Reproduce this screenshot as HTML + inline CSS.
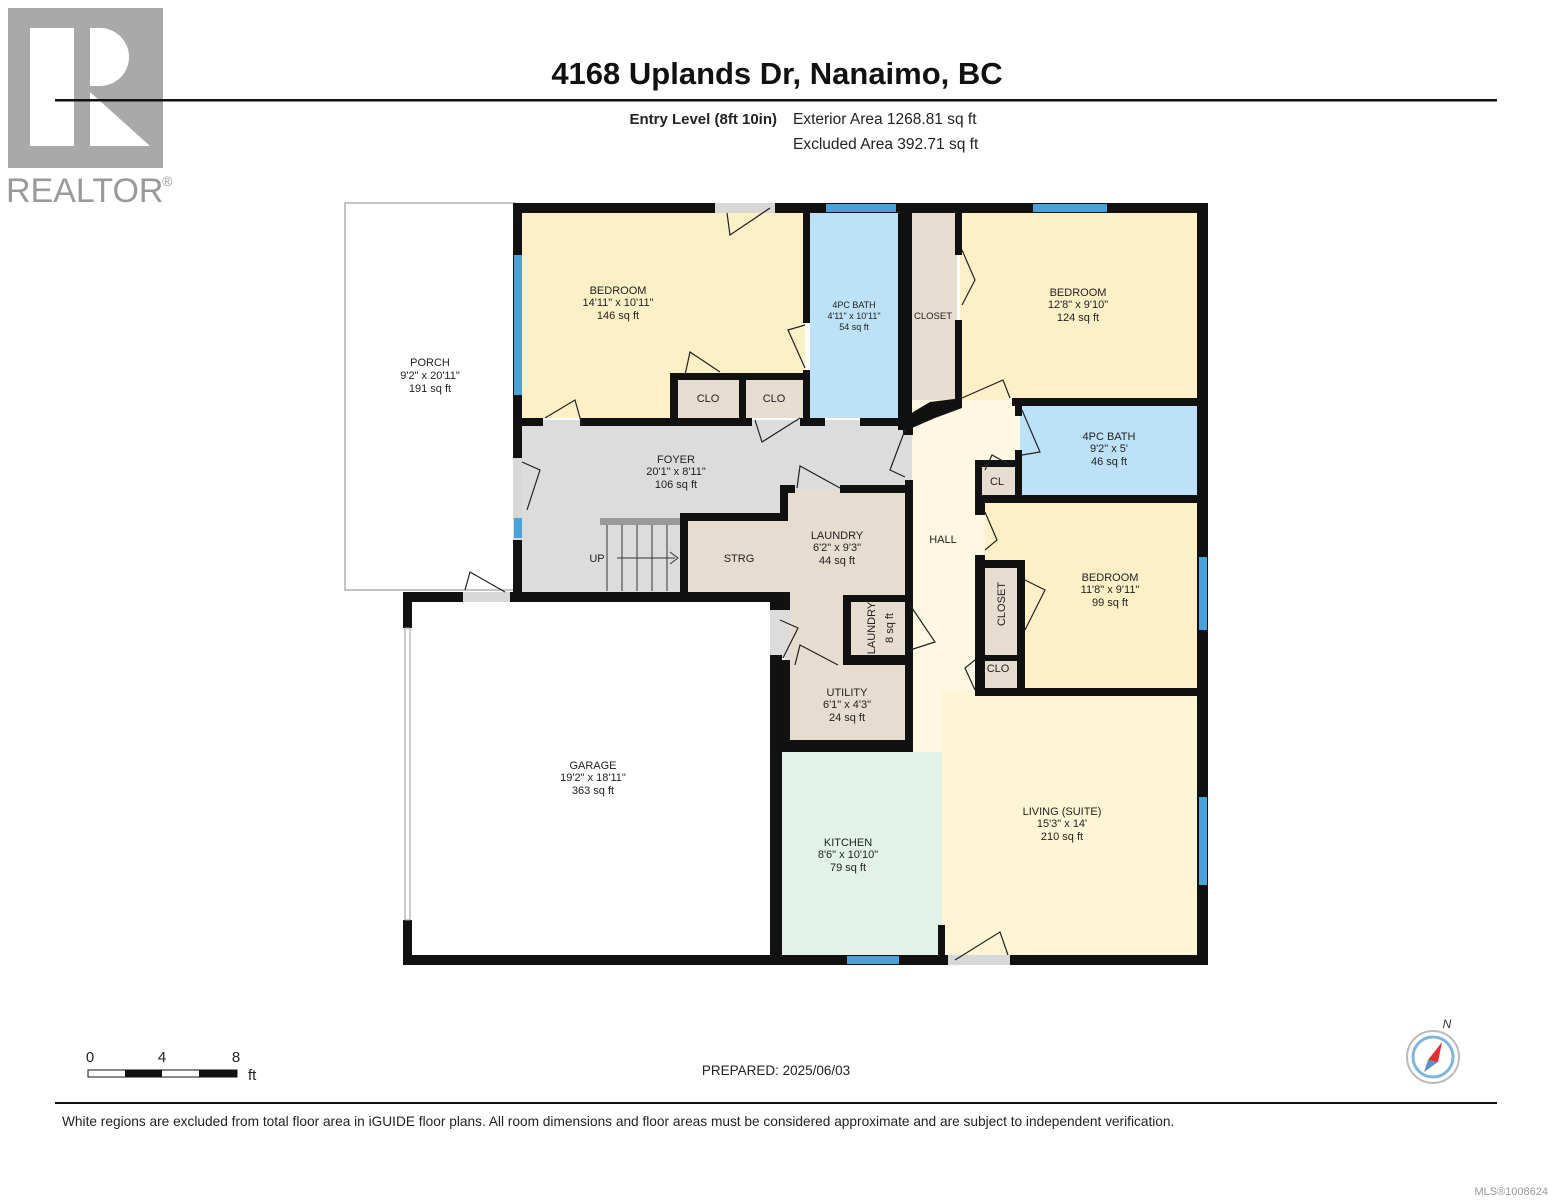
<!DOCTYPE html>
<html><head><meta charset="utf-8"><style>
html,body{margin:0;padding:0;background:#fff;}
svg{display:block;font-family:"Liberation Sans",Arial,sans-serif;}
</style></head><body>
<svg width="1553" height="1200" viewBox="0 0 1553 1200" xmlns="http://www.w3.org/2000/svg">
<!-- Logo -->
<rect x="8" y="8" width="155" height="160" fill="#a9a9a9"/>
<rect x="30" y="28" width="44" height="118" fill="#fff"/>
<path d="M90 28 H100 A29 29 0 0 1 100 86 H90 Z" fill="#fff"/>
<path d="M90 92 L150 146 H90 Z" fill="#fff"/>
<text x="6" y="202" font-size="34" fill="#9a9a9a">REALTOR</text>
<text x="162" y="186" font-size="14" fill="#9a9a9a">®</text>

<!-- Header -->
<text x="777" y="84" font-size="31" font-weight="bold" text-anchor="middle" fill="#111">4168 Uplands Dr, Nanaimo, BC</text>
<rect x="55" y="99" width="1442" height="2.5" fill="#111"/>
<text x="777" y="124" font-size="15" font-weight="bold" text-anchor="end" fill="#222">Entry Level (8ft 10in)</text>
<text x="793" y="124" font-size="15.5" fill="#222">Exterior Area 1268.81 sq ft</text>
<text x="793" y="149" font-size="15.5" fill="#222">Excluded Area 392.71 sq ft</text>

<!-- Room fills -->
<rect x="345" y="203" width="170" height="387" fill="#fff" stroke="#888" stroke-width="1"/>
<rect x="522" y="213" width="283" height="205" fill="#fdefc6"/>
<rect x="810" y="213" width="90" height="205" fill="#bde2f8"/>
<rect x="912" y="213" width="45" height="200" fill="#e6dccf"/>
<rect x="960" y="213" width="240" height="187" fill="#fdefc6"/>
<rect x="513" y="420" width="400" height="175" fill="#dcdcdc"/>
<rect x="912" y="400" width="110" height="520" fill="#fef8e2"/>
<rect x="912" y="690" width="290" height="265" fill="#fdf5d6"/>
<rect x="912" y="690" width="30" height="230" fill="#fef8e2"/>
<rect x="1020" y="405" width="178" height="92" fill="#bde2f8"/>
<rect x="982" y="467" width="36" height="28" fill="#e6dccf"/>
<rect x="985" y="503" width="213" height="187" fill="#fdefc6"/>
<rect x="982" y="568" width="36" height="88" fill="#e6dccf"/>
<rect x="982" y="660" width="36" height="28" fill="#e6dccf"/>
<rect x="688" y="520" width="100" height="73" fill="#e6dccf"/>
<rect x="785" y="490" width="120" height="175" fill="#e6dccf"/>
<rect x="770" y="602" width="20" height="56" fill="#dcdcdc"/>
<rect x="850" y="602" width="55" height="55" fill="#e6dccf"/>
<rect x="788" y="665" width="117" height="77" fill="#e6dccf"/>
<rect x="782" y="752" width="160" height="203" fill="#e2f2e8"/>
<rect x="412" y="602" width="358" height="353" fill="#fff"/>
<rect x="678" y="380" width="62" height="38" fill="#e6dccf"/>
<rect x="745" y="380" width="60" height="38" fill="#e6dccf"/>
<!-- stairs -->
<rect x="600" y="518" width="82" height="7" fill="#999"/>
<g stroke="#333" stroke-width="1"><line x1="607" y1="525" x2="607" y2="591"/><line x1="622" y1="525" x2="622" y2="591"/><line x1="637" y1="525" x2="637" y2="591"/><line x1="652" y1="525" x2="652" y2="591"/><line x1="667" y1="525" x2="667" y2="591"/><line x1="617" y1="558" x2="675" y2="558"/></g>
<path d="M670 552 L678 558 L670 564" fill="none" stroke="#333"/>

<!-- Walls -->
<g fill="#111">
<rect x="513" y="203" width="202" height="10"/><rect x="775" y="203" width="433" height="10"/>
<rect x="1197" y="203" width="11" height="762"/>
<rect x="403" y="955" width="545" height="10"/><rect x="1010" y="955" width="198" height="10"/>
<rect x="403" y="592" width="9" height="36"/><rect x="403" y="920" width="9" height="45"/>
<rect x="513" y="203" width="9" height="255"/><rect x="513" y="540" width="9" height="60"/>
<rect x="403" y="592" width="60" height="10"/><rect x="510" y="592" width="270" height="10"/>
<rect x="513" y="418" width="30" height="8"/><rect x="580" y="418" width="172" height="8"/><rect x="800" y="418" width="25" height="8"/><rect x="860" y="418" width="52" height="8"/>
<rect x="803" y="203" width="7" height="120"/><rect x="803" y="370" width="7" height="55"/>
<rect x="670" y="373" width="140" height="7"/><rect x="670" y="373" width="8" height="50"/><rect x="739" y="373" width="7" height="50"/>
<rect x="898" y="203" width="14" height="227"/><rect x="903" y="420" width="10" height="15"/>
<rect x="955" y="213" width="7" height="42"/><rect x="955" y="320" width="7" height="88"/>
<polygon points="903,418 930,402 962,398 962,408 935,418 912,428"/>
<rect x="1012" y="398" width="196" height="8"/>
<rect x="1015" y="398" width="7" height="18"/><rect x="1015" y="450" width="7" height="50"/>
<rect x="975" y="460" width="44" height="7"/><rect x="975" y="460" width="7" height="43"/>
<rect x="975" y="495" width="233" height="8"/>
<rect x="975" y="495" width="10" height="20"/><rect x="975" y="555" width="10" height="135"/>
<rect x="975" y="560" width="50" height="8"/><rect x="1017" y="560" width="8" height="130"/>
<rect x="975" y="655" width="50" height="6"/>
<rect x="975" y="688" width="233" height="8"/>
<rect x="905" y="480" width="8" height="272"/>
<rect x="780" y="485" width="15" height="8"/><rect x="840" y="485" width="73" height="8"/>
<rect x="780" y="485" width="8" height="35"/>
<rect x="680" y="513" width="108" height="8"/><rect x="680" y="513" width="8" height="80"/>
<rect x="770" y="592" width="20" height="18"/>
<rect x="770" y="655" width="12" height="310"/>
<rect x="843" y="595" width="8" height="70"/><rect x="843" y="595" width="67" height="7"/>
<rect x="843" y="655" width="67" height="10"/>
<rect x="782" y="660" width="8" height="92"/>
<rect x="780" y="740" width="133" height="12"/>
<rect x="938" y="925" width="7" height="40"/>
</g>
<!-- thin garage left line -->
<rect x="405" y="628" width="5" height="292" fill="#fff" stroke="#999" stroke-width="1"/>
<!-- Windows -->
<g fill="#4aa3d8">
<rect x="514" y="255" width="8" height="140"/>
<rect x="826" y="204" width="70" height="8"/>
<rect x="1033" y="204" width="74" height="8"/>
<rect x="1199" y="557" width="8" height="73"/>
<rect x="1199" y="797" width="8" height="88"/>
<rect x="847" y="956" width="52" height="8"/>
<rect x="514" y="518" width="8" height="20"/>
</g>
<!-- door openings -->
<g fill="#d8d8d8"><rect x="715" y="203" width="60" height="10"/><rect x="463" y="592" width="47" height="10"/><rect x="948" y="955" width="62" height="10"/><rect x="513" y="458" width="9" height="60"/></g>
<!-- door swings -->
<g fill="none" stroke="#222" stroke-width="1.2">
<path d="M727 213 L730 235 L770 208"/><path d="M805 325 L788 330 L805 368"/><path d="M545 418 L575 400 L582 425"/>
<path d="M685 375 L690 352 L720 372"/><path d="M755 420 L762 442 L800 418"/><path d="M522 462 L540 470 L527 510"/>
<path d="M465 590 L470 572 L505 592"/><path d="M797 488 L800 466 L840 488"/><path d="M905 430 L890 470 L905 477"/>
<path d="M962 250 L975 280 L962 305"/><path d="M962 398 L1003 380 L1010 398"/><path d="M1022 410 L1040 452 L1022 455"/>
<path d="M985 470 L992 455 L1010 465"/><path d="M985 512 L997 540 L985 550"/><path d="M1025 580 L1045 590 L1025 630"/>
<path d="M975 660 L965 668 L975 690"/><path d="M910 605 L935 642 L910 650"/><path d="M780 620 L798 628 L783 658"/>
<path d="M795 665 L800 645 L838 665"/><path d="M955 960 L1000 932 L1008 955"/>
</g>

<!-- Labels -->
<g font-size="11" fill="#222" text-anchor="middle">
<text x="430" y="366">PORCH</text><text x="430" y="379">9'2" x 20'11"</text><text x="430" y="392">191 sq ft</text>
<text x="618" y="294">BEDROOM</text><text x="618" y="306">14'11" x 10'11"</text><text x="618" y="319">146 sq ft</text>
<text x="854" y="308" font-size="9">4PC BATH</text><text x="854" y="319" font-size="9">4'11" x 10'11"</text><text x="854" y="330" font-size="9">54 sq ft</text>
<text x="933" y="319" font-size="9.5">CLOSET</text>
<text x="1078" y="296">BEDROOM</text><text x="1078" y="308">12'8" x 9'10"</text><text x="1078" y="321">124 sq ft</text>
<text x="708" y="402">CLO</text><text x="774" y="402">CLO</text>
<text x="676" y="463">FOYER</text><text x="676" y="475">20'1" x 8'11"</text><text x="676" y="488">106 sq ft</text>
<text x="1109" y="440">4PC BATH</text><text x="1109" y="452">9'2" x 5'</text><text x="1109" y="465">46 sq ft</text>
<text x="997" y="485">CL</text>
<text x="943" y="543">HALL</text>
<text x="837" y="539">LAUNDRY</text><text x="837" y="551">6'2" x 9'3"</text><text x="837" y="564">44 sq ft</text>
<text x="739" y="562">STRG</text><text x="597" y="562">UP</text>
<text x="1110" y="581">BEDROOM</text><text x="1110" y="593">11'8" x 9'11"</text><text x="1110" y="606">99 sq ft</text>
<text x="1001" y="604" transform="rotate(-90 1001 604)" dy="4">CLOSET</text>
<text x="998" y="672">CLO</text>
<text x="876" y="628" transform="rotate(-90 876 628)" dy="-1">LAUNDRY</text>
<text x="889" y="628" transform="rotate(-90 889 628)" dy="4">8 sq ft</text>
<text x="847" y="696">UTILITY</text><text x="847" y="708">6'1" x 4'3"</text><text x="847" y="721">24 sq ft</text>
<text x="593" y="769">GARAGE</text><text x="593" y="781">19'2" x 18'11"</text><text x="593" y="794">363 sq ft</text>
<text x="1062" y="815">LIVING (SUITE)</text><text x="1062" y="827">15'3" x 14'</text><text x="1062" y="840">210 sq ft</text>
<text x="848" y="846">KITCHEN</text><text x="848" y="858">8'6" x 10'10"</text><text x="848" y="871">79 sq ft</text>
</g>

<!-- Scale bar -->
<text x="90" y="1062" font-size="15" text-anchor="middle" fill="#222">0</text>
<text x="162" y="1062" font-size="15" text-anchor="middle" fill="#222">4</text>
<text x="236" y="1062" font-size="15" text-anchor="middle" fill="#222">8</text>
<text x="248" y="1080" font-size="15" fill="#222">ft</text>
<rect x="88" y="1070" width="149" height="7" fill="#fff" stroke="#111" stroke-width="1"/>
<rect x="125" y="1070" width="37" height="7" fill="#111"/><rect x="199" y="1070" width="38" height="7" fill="#111"/>
<text x="776" y="1075" font-size="13.5" text-anchor="middle" fill="#222">PREPARED: 2025/06/03</text>
<!-- compass -->
<circle cx="1433" cy="1057" r="26" fill="#fff" stroke="#bbb" stroke-width="2"/>
<circle cx="1433" cy="1057" r="20" fill="#fff" stroke="#7fb6e0" stroke-width="3"/>
<polygon points="1442,1042 1438,1062 1428,1060" fill="#e53030"/>
<polygon points="1428,1060 1438,1062 1424,1072" fill="#5a8fc8"/>
<text x="1447" y="1028" font-size="12" font-style="italic" text-anchor="middle" fill="#333">N</text>

<rect x="55" y="1102" width="1442" height="2" fill="#111"/>
<text x="62" y="1126" font-size="13.7" fill="#222">White regions are excluded from total floor area in iGUIDE floor plans. All room dimensions and floor areas must be considered approximate and are subject to independent verification.</text>
<text x="1548" y="1195" font-size="11" text-anchor="end" fill="#999">MLS®1008624</text>
</svg>
</body></html>
